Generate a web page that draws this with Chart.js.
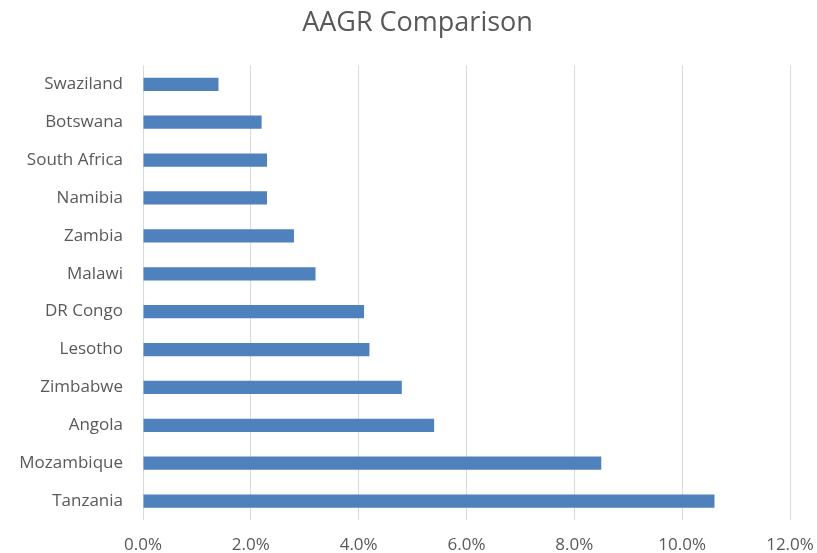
<!DOCTYPE html>
<html>
<head>
<meta charset="utf-8">
<script src="https://cdn.jsdelivr.net/npm/chart.js@4.4.0/dist/chart.umd.min.js"></script>
<style>
  html, body { margin: 0; padding: 0; background: #fff; }
  #wrap { width: 817px; height: 553px; }
</style>
</head>
<body>
<div id="wrap"><canvas id="aagrChart"></canvas></div>
<script>
// Dados do gráfico
const countries = ['Swaziland', 'Botswana', 'South Africa', 'Namibia', 'Zambia', 'Malawi',
  'DR Congo', 'Lesotho', 'Zimbabwe', 'Angola', 'Mozambique', 'Tanzania'];
const aagrValues = [0.014, 0.022, 0.023, 0.023, 0.028, 0.032, 0.041, 0.042, 0.048, 0.054, 0.085, 0.106];
const axisMin = 0;
const axisMax = 0.12;
const axisStep = 0.02;

const textColor = '#595959';
const fontFamily = '"Open Sans", "Noto Sans", sans-serif';

// desloca o título um pouco para a direita, como no original
const titleShift = {
  id: 'titleShift',
  afterLayout(chart) {
    if (chart.titleBlock) chart.titleBlock.left += 45;
  }
};

const ctx = document.getElementById('aagrChart');
new Chart(ctx, {
  type: 'bar',
  data: {
    labels: countries,
    datasets: [{
      label: 'AAGR',
      data: aagrValues,
      backgroundColor: '#4f81bd',
      borderWidth: 0,
      categoryPercentage: 1,
      barPercentage: 0.35
    }]
  },
  options: {
    indexAxis: 'y',
    responsive: true,
    maintainAspectRatio: false,
    animation: false,
    layout: { padding: { top: 0, right: 27, bottom: 0, left: 0 } },
    plugins: {
      legend: { display: false },
      tooltip: { enabled: false },
      title: {
        display: true,
        text: 'AAGR Comparison',
        color: textColor,
        font: { family: fontFamily, size: 27, weight: 'normal', lineHeight: 1.2 },
        padding: { top: 7, bottom: 26 }
      }
    },
    scales: {
      x: {
        min: axisMin,
        max: axisMax,
        ticks: {
          stepSize: axisStep,
          color: textColor,
          font: { family: fontFamily, size: 17 },
          padding: 15,
          callback: v => (v * 100).toFixed(1) + '%'
        },
        grid: { color: '#d9d9d9', drawTicks: false },
        border: { display: false },
        afterFit: s => { s.height = 33; s.paddingLeft = 0; s.paddingRight = 0; }
      },
      y: {
        ticks: {
          color: textColor,
          font: { family: fontFamily, size: 17 },
          padding: 20
        },
        grid: { display: false, drawTicks: false },
        border: { display: false },
        afterFit: s => { s.width = 143; s.paddingTop = 0; s.paddingBottom = 0; }
      }
    }
  },
  plugins: [titleShift]
});
</script>
</body>
</html>
